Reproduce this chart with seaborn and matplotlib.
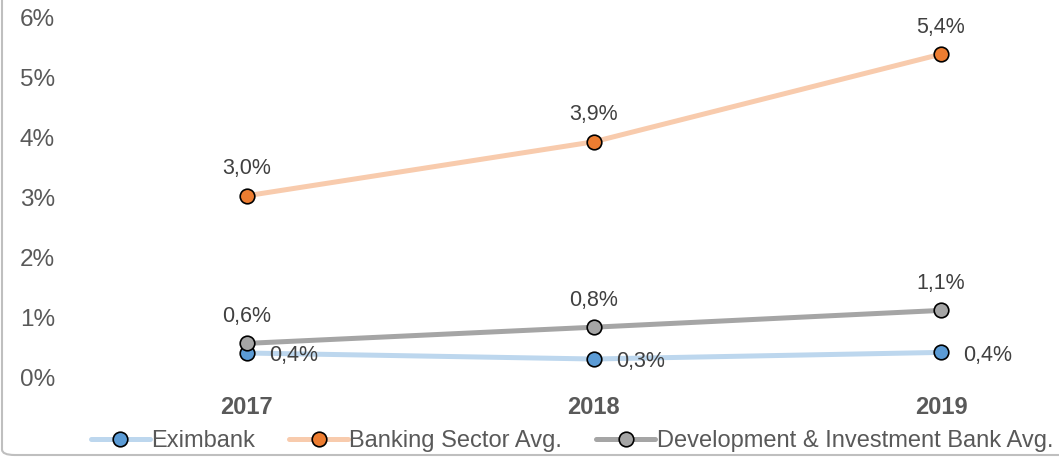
import matplotlib
matplotlib.use("Agg")
import matplotlib.pyplot as plt
from matplotlib.patches import FancyBboxPatch
from matplotlib.lines import Line2D
import pandas as pd
import seaborn as sns

years = ["2017", "2018", "2019"]
eximbank = [0.40, 0.30, 0.41]
banking_sector = [3.02, 3.92, 5.38]
dev_invest = [0.56, 0.83, 1.11]
series_names = ["Eximbank", "Banking Sector Avg.", "Development & Investment Bank Avg."]
y_ticks = [0, 1, 2, 3, 4, 5, 6]

STYLE = {
    "Eximbank": {"line": "#BDD7EE", "marker": "#5B9BD5", "label_pos": "right"},
    "Banking Sector Avg.": {"line": "#F8CBAD", "marker": "#ED7D31", "label_pos": "above"},
    "Development & Investment Bank Avg.": {"line": "#A5A5A5", "marker": "#A5A5A5", "label_pos": "above"},
}


def pct(v):
    return f"{v:.1f}".replace(".", ",") + "%"


sns.set_theme(style="white")
plt.rcParams["font.family"] = ["Liberation Sans", "DejaVu Sans"]

df = pd.DataFrame({
    "year": years * 3,
    "value": eximbank + banking_sector + dev_invest,
    "series": sum([[n] * len(years) for n in series_names], []),
})

fig = plt.figure(figsize=(10.59, 4.59), dpi=100)
ax = fig.add_axes([73 / 1059, 82 / 459, (1059 - 73) / 1059, 360 / 459])

for name in series_names:
    st = STYLE[name]
    sub = df[df.series == name]
    sns.lineplot(data=sub, x="year", y="value", ax=ax, color=st["line"], linewidth=3.6,
                 marker="o", markersize=10.5, markerfacecolor=st["marker"],
                 markeredgecolor="black", markeredgewidth=1.2, zorder=3)
    for i, v in enumerate(sub.value):
        if st["label_pos"] == "above":
            ax.annotate(pct(v), (i, v), xytext=(0, 12), textcoords="offset points",
                        ha="center", va="bottom", fontsize=15.5, color="#404040")
        else:
            ax.annotate(pct(v), (i, v), xytext=(16, -2), textcoords="offset points",
                        ha="left", va="center", fontsize=15.5, color="#404040")

ax.set_xlim(-0.5, 2.34)
ax.set_ylim(0, 6)
ax.set_yticks(y_ticks)
ax.set_yticklabels([f"{t}%" for t in y_ticks])
ax.tick_params(axis="y", length=0, pad=13, labelsize=17.5, labelcolor="#595959")
ax.tick_params(axis="x", length=0, pad=14, labelsize=17, labelcolor="#595959")
for lbl in ax.get_xticklabels():
    lbl.set_fontweight("bold")
ax.set_xlabel("")
ax.set_ylabel("")
for s in ax.spines.values():
    s.set_visible(False)
ax.grid(False)

handles = [Line2D([0], [0], color=STYLE[n]["line"], linewidth=3.6, marker="o", markersize=10.5,
                  markerfacecolor=STYLE[n]["marker"], markeredgecolor="black",
                  markeredgewidth=1.2) for n in series_names]
fig.legend(handles, series_names, loc="center", bbox_to_anchor=(572 / 1059, 1 - 441 / 459),
           ncol=3, frameon=False, fontsize=17, handlelength=2.5, handletextpad=0.05,
           columnspacing=1.45, labelcolor="#595959")

frame = FancyBboxPatch((2 / 1059, 4 / 459), 1.2, 1.2, boxstyle="round,pad=0,rounding_size=0.012",
                       transform=fig.transFigure, facecolor="none", edgecolor="#BFBFBF",
                       linewidth=1.5, zorder=0)
fig.patches.append(frame)

fig.savefig("out.png", dpi=100, facecolor="white")
